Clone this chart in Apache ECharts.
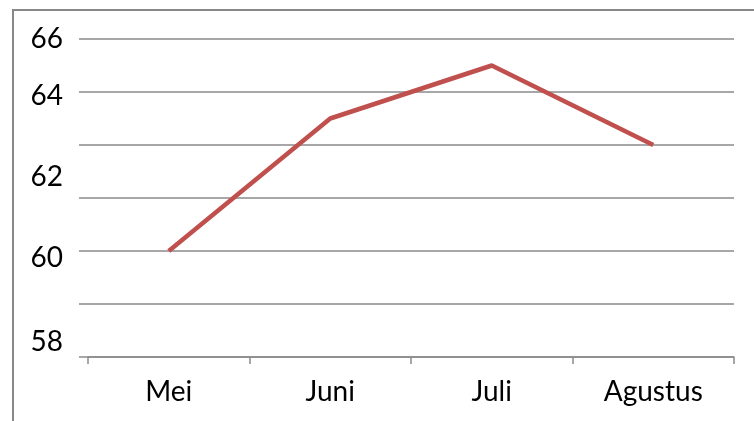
<!DOCTYPE html>
<html>
<head>
<meta charset="utf-8">
<script src="https://cdn.jsdelivr.net/npm/echarts@6/dist/echarts.min.js"></script>
<style>
  html, body { margin: 0; padding: 0; background: #fff; }
  #main { width: 754px; height: 421px; }
</style>
</head>
<body>
<div id="main"></div>
<script>
var categories = ['Mei', 'Juni', 'Juli', 'Agustus'];
var values = [60, 62.5, 63.5, 62];
// y tick labels as printed on the original, and where they sit on the gridline scale
var tickLabels = ['66', '64', '62', '60', '58'];
var tickLabelAt = [64, 62.93, 61.4, 59.87, 58.28];

var myChart = echarts.init(document.getElementById('main'));

var option = {
    animation: false,
    grid: { left: 88, right: 20, top: 39, bottom: 64 },
    xAxis: {
        type: 'category',
        data: categories,
        boundaryGap: true,
        axisLine: { lineStyle: { color: '#8a8a8a', width: 1.5 } },
        axisTick: { show: true, length: 7, lineStyle: { color: '#8a8a8a', width: 1.5 } },
        axisLabel: { color: '#000', fontFamily: 'Lato', fontSize: 28, margin: 21 }
    },
    yAxis: {
        type: 'value',
        min: 58,
        max: 64,
        interval: 1,
        axisLine: { show: false },
        axisTick: { show: false },
        axisLabel: { show: false },
        splitLine: { lineStyle: { color: '#8a8a8a', width: 1.5 } }
    },
    series: [{
        type: 'line',
        data: values,
        symbol: 'none',
        lineStyle: { color: '#c0504d', width: 4.5 }
    }]
};

myChart.setOption(option);

// labels and the outer frame
var graphics = [{
    type: 'rect',
    shape: { x: 13, y: 10, width: 760, height: 430 },
    style: { fill: null, stroke: '#888', lineWidth: 2 },
    silent: true
}];
for (var i = 0; i < tickLabels.length; i++) {
    var py = myChart.convertToPixel({ yAxisIndex: 0 }, tickLabelAt[i]);
    graphics.push({
        type: 'text',
        x: 63,
        y: py,
        style: {
            text: tickLabels[i],
            fill: '#000',
            font: '28px Lato',
            align: 'right',
            verticalAlign: 'middle'
        }
    });
}
// gridlines run a little past the axis start on the left
for (var v = 58; v <= 64; v++) {
    var gy = myChart.convertToPixel({ yAxisIndex: 0 }, v);
    graphics.push({
        type: 'line',
        shape: { x1: 79, y1: gy, x2: 88, y2: gy },
        style: { stroke: '#8a8a8a', lineWidth: 1.5 }
    });
}
myChart.setOption({ graphic: graphics });
</script>
</body>
</html>
